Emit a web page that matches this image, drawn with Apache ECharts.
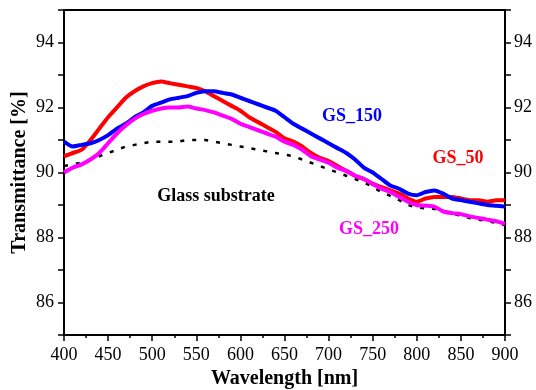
<!DOCTYPE html>
<html><head><meta charset="utf-8">
<script src="https://cdn.jsdelivr.net/npm/echarts@6/dist/echarts.min.js"></script>
<style>html,body{margin:0;padding:0;background:#fff}#c{width:536px;height:390px}</style>
</head><body><div id="c"></div>
<script>
const wavelength = [400,410,420,430,440,450,460,470,480,490,500,510,520,530,540,550,560,570,580,590,600,610,620,630,640,650,660,670,680,690,700,710,720,730,740,750,760,770,780,790,800,810,820,830,840,850,860,870,880,890,900];
const gs50 = [90.5,90.6,90.7,91.0,91.35,91.7,92.0,92.3,92.5,92.65,92.75,92.8,92.75,92.7,92.65,92.6,92.5,92.35,92.2,92.05,91.9,91.7,91.55,91.4,91.25,91.05,90.95,90.8,90.6,90.45,90.35,90.2,90.05,89.9,89.8,89.65,89.55,89.45,89.35,89.2,89.1,89.2,89.25,89.25,89.25,89.2,89.15,89.15,89.1,89.15,89.15];
const gs150 = [90.95,90.8,90.85,90.9,91.0,91.15,91.35,91.5,91.7,91.85,92.05,92.15,92.25,92.3,92.35,92.45,92.5,92.5,92.45,92.4,92.3,92.2,92.1,92.0,91.9,91.7,91.5,91.35,91.2,91.05,90.9,90.75,90.6,90.4,90.15,90.0,89.8,89.6,89.5,89.35,89.3,89.4,89.45,89.35,89.2,89.15,89.1,89.05,89.0,88.98,88.95];
const gs250 = [90.0,90.15,90.25,90.4,90.6,90.9,91.2,91.45,91.65,91.8,91.9,91.97,92.0,92.0,92.03,91.97,91.92,91.85,91.75,91.65,91.5,91.4,91.3,91.2,91.1,90.95,90.85,90.7,90.5,90.4,90.3,90.15,90.05,89.9,89.8,89.65,89.5,89.4,89.25,89.1,89.0,88.98,88.95,88.8,88.75,88.72,88.65,88.6,88.55,88.5,88.42];
const glass = [90.2,90.25,90.3,90.4,90.5,90.6,90.7,90.8,90.85,90.9,90.95,90.95,90.95,90.95,91.0,91.0,91.0,90.95,90.9,90.85,90.8,90.75,90.7,90.65,90.6,90.55,90.5,90.4,90.3,90.2,90.1,90.0,89.9,89.8,89.7,89.55,89.4,89.28,89.15,89.0,88.92,88.9,88.88,88.8,88.72,88.68,88.6,88.55,88.5,88.45,88.38];
const yTicks = [86,88,90,92,94];
const xTitle = 'Wavelength [nm]';
const yTitle = 'Transmittance [%]';
const labels = [
  {text:'GS_150', color:'#0000ff'},
  {text:'GS_50', color:'#ff0000'},
  {text:'GS_250', color:'#ff00ff'},
  {text:'Glass substrate', color:'#000000'}
];
const labelPos = [[352,116],[458,158],[369,229],[216,196]];

const FONT = 'Liberation Serif';
const pair = arr => wavelength.map((w,i)=>[w,arr[i]]);
const line = {lineStyle:{color:'#000',width:2}};
const yBase = {type:'value',min:85,max:95,interval:1,splitLine:{show:false},axisLine:{show:false}};
const lab = {fontFamily:FONT,fontSize:18,color:'#000'};
const chart = echarts.init(document.getElementById('c'),null,{renderer:'canvas'});
chart.setOption({
  animation:false,
  grid:{left:64,right:31,top:10,bottom:55,containLabel:false,outerBoundsMode:'none'},
  xAxis:[
    {type:'value',min:400,max:900,interval:50,position:'bottom',
     axisLine:{show:true,...line},
     axisTick:{show:true,inside:false,length:6,lineStyle:{color:'#000',width:1.5}},
     minorTick:{show:true,splitNumber:2,length:3,lineStyle:{color:'#000',width:1.5}},
     splitLine:{show:false},minorSplitLine:{show:false},
     axisLabel:{...lab,margin:11},
     name:xTitle,nameLocation:'middle',nameGap:34,nameMoveOverlap:false,
     nameTextStyle:{fontFamily:FONT,fontSize:20,fontWeight:'bold',color:'#000'}},
    {type:'value',min:400,max:900,interval:50,position:'top',
     axisLine:{show:true,...line},axisTick:{show:false},axisLabel:{show:false},splitLine:{show:false}}
  ],
  yAxis:[
    {...yBase,position:'left',axisLine:{show:true,...line},
     axisTick:{show:true,length:3,lineStyle:{color:'#000',width:1.5}},
     axisLabel:{...lab,margin:10,formatter:v=>yTicks.includes(v)?String(v):''},
     name:yTitle,nameLocation:'middle',nameGap:34,nameMoveOverlap:false,
     nameTextStyle:{fontFamily:FONT,fontSize:20,fontWeight:'bold',color:'#000'}},
    {...yBase,position:'left',
     axisTick:{show:true,length:6,interval:(i)=>i%2===1,lineStyle:{color:'#000',width:1.5}},
     axisLabel:{show:false}},
    {...yBase,position:'right',axisLine:{show:true,...line},
     axisTick:{show:true,length:3,lineStyle:{color:'#000',width:1.5}},
     axisLabel:{...lab,margin:9,formatter:v=>yTicks.includes(v)?String(v):''}},
    {...yBase,position:'right',
     axisTick:{show:true,length:6,interval:(i)=>i%2===1,lineStyle:{color:'#000',width:1.5}},
     axisLabel:{show:false}}
  ],
  series:[
    {type:'line',data:pair(glass),showSymbol:false,lineStyle:{color:'#000',width:2.5,type:[4,8]},z:2},
    {type:'line',data:pair(gs50),showSymbol:false,smooth:0.2,lineStyle:{color:'#ff0000',width:4},z:3},
    {type:'line',data:pair(gs150),showSymbol:false,smooth:0.2,lineStyle:{color:'#0000ff',width:4},z:4},
    {type:'line',data:pair(gs250),showSymbol:false,smooth:0.2,lineStyle:{color:'#ff00ff',width:4},z:5}
  ],
  graphic: labels.map((l,i)=>({type:'text',x:labelPos[i][0],y:labelPos[i][1],z:10,
    style:{text:l.text,fill:l.color,font:'bold 18px "'+FONT+'"',align:'center',verticalAlign:'middle'}}))
});
</script></body></html>
